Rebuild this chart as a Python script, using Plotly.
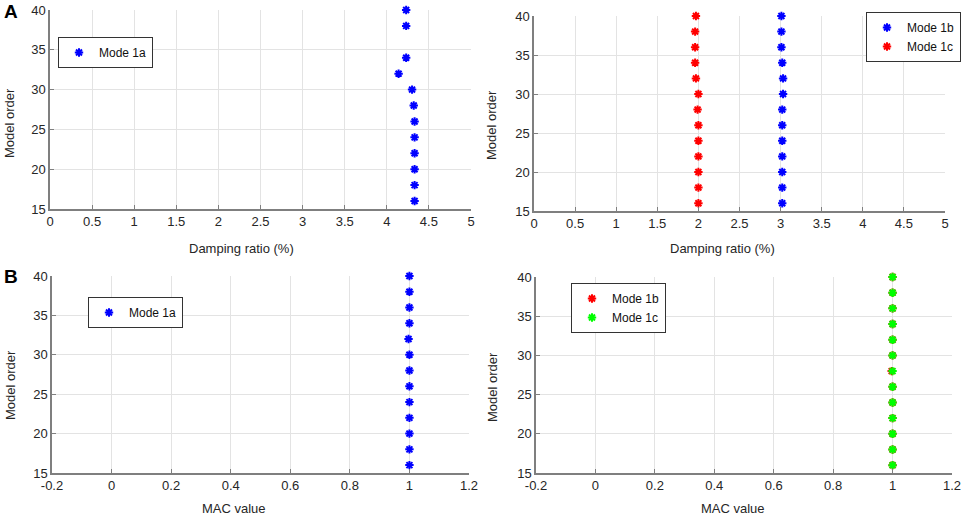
import plotly.graph_objects as go

# model orders
orders = [16, 18, 20, 22, 24, 26, 28, 30, 32, 34, 36, 38, 40]
orders_1a_damp = [16, 18, 20, 22, 24, 26, 28, 30, 32, 34, 38, 40]  # no 36 in A

# A: damping ratio (%)
damp_1a = [4.33, 4.33, 4.33, 4.33, 4.33, 4.33, 4.32, 4.30, 4.14, 4.23, 4.23, 4.23]
damp_1b = [3.02, 3.02, 3.02, 3.02, 3.02, 3.02, 3.02, 3.03, 3.03, 3.02, 3.01, 3.01, 3.01]
damp_1c = [2.00, 2.00, 2.00, 2.00, 2.00, 2.00, 1.99, 2.00, 1.97, 1.96, 1.96, 1.96, 1.97]

# B: MAC value
mac_1a = [1.0, 1.0, 1.0, 1.0, 1.0, 1.0, 1.0, 1.0, 0.997, 1.0, 1.0, 1.0, 1.0]
mac_1b = [1.0, 1.0, 1.0, 1.0, 1.0, 1.0, 0.997, 1.0, 1.0, 1.0, 1.0, 1.0, 1.0]
mac_1c = [1.0, 1.0, 1.0, 1.0, 1.0, 1.0, 1.0, 1.0, 1.0, 1.0, 1.0, 1.0, 1.0]

W, H = 965, 519
FONT = 'Liberation Sans, Arial'
BLUE, RED, GREEN = '#0000ff', '#ff0000', '#00ff00'


def fx(x):
    return x / W


def fy(y):
    return 1 - y / H


def star(x, y, color, name, xa, ya, leg):
    return go.Scatter(
        x=x, y=y, mode='markers', name=name, xaxis=xa, yaxis=ya, legend=leg,
        showlegend=True, cliponaxis=False,
        marker=dict(symbol='asterisk-open', size=7, color=color,
                    line=dict(color=color, width=2)),
    )


fig = go.Figure()
fig.add_trace(star(damp_1a, orders_1a_damp, BLUE, 'Mode 1a', 'x', 'y', 'legend'))
fig.add_trace(star(damp_1b, orders, BLUE, 'Mode 1b', 'x2', 'y2', 'legend2'))
fig.add_trace(star(damp_1c, orders, RED, 'Mode 1c', 'x2', 'y2', 'legend2'))
fig.add_trace(star(mac_1a, orders, BLUE, 'Mode 1a', 'x3', 'y3', 'legend3'))
fig.add_trace(star(mac_1b, orders, RED, 'Mode 1b', 'x4', 'y4', 'legend4'))
fig.add_trace(star(mac_1c, orders, GREEN, 'Mode 1c', 'x4', 'y4', 'legend4'))

axis_style = dict(
    showgrid=True, gridcolor='#e3e3e3', gridwidth=1,
    showline=True, linecolor='#7f7f7f', linewidth=1.5,
    ticks='inside', ticklen=4, tickcolor='#7f7f7f',
    zeroline=False, automargin=False,
    tickfont=dict(family=FONT, size=13, color='#262626'),
)

damp_x = dict(axis_style, range=[0, 5], dtick=0.5)
mac_x = dict(axis_style, range=[-0.2, 1.2], tickvals=[-0.2, 0, 0.2, 0.4, 0.6, 0.8, 1, 1.2],
             ticktext=['-0.2', '0', '0.2', '0.4', '0.6', '0.8', '1', '1.2'])
order_y = dict(axis_style, range=[15, 40], dtick=5)

legend_style = dict(
    bgcolor='white', bordercolor='#333333', borderwidth=1,
    font=dict(family=FONT, size=12, color='#111111'),
    xanchor='left', yanchor='top', itemsizing='trace',
    tracegroupgap=0, visible=True,
)

annos = []


def label(text, x, y, size=13, angle=0, bold=False):
    annos.append(dict(
        text='<b>%s</b>' % text if bold else text,
        x=fx(x), y=fy(y), xref='paper', yref='paper',
        xanchor='center', yanchor='middle',
        showarrow=False, textangle=angle,
        font=dict(family=FONT, size=size, color='#262626' if not bold else 'black'),
    ))


label('A', 11, 12, size=19, bold=True)
label('B', 11, 276, size=19, bold=True)
label('Damping ratio (%)', 242, 248)
label('Damping ratio (%)', 722, 248)
label('MAC value', 234, 508)
label('MAC value', 733, 508)
label('Model order', 10, 123, angle=-90)
label('Model order', 492, 125, angle=-90)
label('Model order', 10, 385, angle=-90)
label('Model order', 492, 387, angle=-90)

fig.update_layout(
    width=W, height=H,
    margin=dict(l=0, r=0, t=0, b=0, autoexpand=False),
    showlegend=True,
    plot_bgcolor='white', paper_bgcolor='white',
    xaxis=dict(damp_x, domain=[fx(50), fx(471)], anchor='y'),
    yaxis=dict(order_y, domain=[fy(209), fy(10)], anchor='x'),
    xaxis2=dict(damp_x, domain=[fx(534), fx(945)], anchor='y2'),
    yaxis2=dict(order_y, domain=[fy(211), fy(16)], anchor='x2'),
    xaxis3=dict(mac_x, domain=[fx(52), fx(469)], anchor='y3'),
    yaxis3=dict(order_y, domain=[fy(473), fy(276)], anchor='x3'),
    xaxis4=dict(mac_x, domain=[fx(536), fx(952)], anchor='y4'),
    yaxis4=dict(order_y, domain=[fy(473), fy(277)], anchor='x4'),
    legend=dict(legend_style, x=fx(58), y=fy(37)),
    legend2=dict(legend_style, x=fx(866), y=fy(12)),
    legend3=dict(legend_style, x=fx(88), y=fy(297)),
    legend4=dict(legend_style, x=fx(571), y=fy(283)),
    annotations=annos,
)

# drop the browser's default body margin so the 965x519 figure fills the window
fig.write_html("out.html", config={'displayModeBar': False},
               post_script="document.body.style.margin='0px';")
